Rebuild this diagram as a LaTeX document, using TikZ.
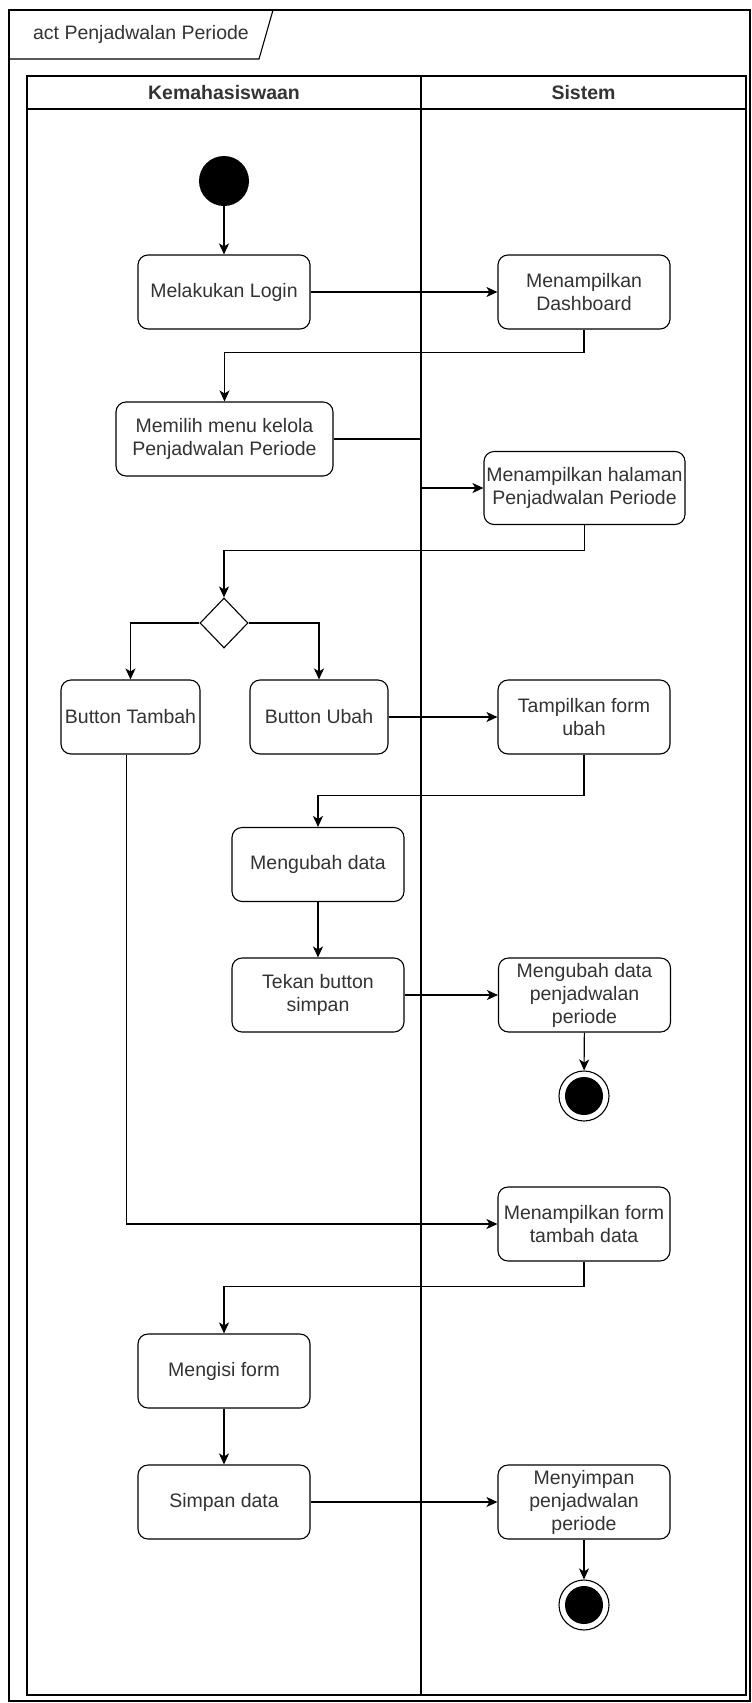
\documentclass[tikz,border=0pt]{standalone}
\usepackage{fontspec}
\setmainfont{Liberation Sans}
\usetikzlibrary{shapes.geometric,arrows.meta}
\begin{document}
\begin{tikzpicture}[x=1pt,y=-1pt,
  txt/.style={font=\fontsize{19.5}{23}\selectfont, text=black!80},
  act/.style={draw, rounded corners=10pt, line width=1.1pt, align=center, inner sep=0pt, txt, fill=white, minimum width=172pt, minimum height=74pt},
  frameline/.style={line width=1.1pt},
  flow/.style={line width=1.1pt, -{Stealth[length=11pt,width=10pt,inset=3pt]}},
  startnode/.style={circle, fill=black, minimum size=50pt, inner sep=0pt},
  endnode/.style={circle, draw, line width=1.1pt, minimum size=50pt, inner sep=0pt},
  decision/.style={diamond, draw, line width=1.1pt, minimum width=48pt, minimum height=50pt, inner sep=0pt}
]
\useasboundingbox (0,0) rectangle (752,1703);
% frame
\draw[frameline] (9,10) rectangle (750,1701);
\draw[frameline] (9,59) -- (259,59) -- (273,10);
\node[txt] (title) at (141,34) {act Penjadwalan Periode};
% lanes
\draw[frameline] (27,76) rectangle (746,1695);
\draw[frameline] (27,109) -- (746,109);
\draw[frameline] (421,76) -- (421,1695);
\node[txt, font=\fontsize{19.5}{23}\selectfont\bfseries] (lane1) at (224,92.5) {Kemahasiswaan};
\node[txt, font=\fontsize{19.5}{23}\selectfont\bfseries] (lane2) at (583.5,92.5) {Sistem};
\coordinate (divx) at (421,0);
% nodes
\node[startnode] (start) at (224,181) {};
\node[act] (login) at (224,292) {Melakukan Login};
\node[act] (dash) at (584,292) {Menampilkan\\Dashboard};
\node[act, minimum width=217pt] (memilih) at (224.5,439) {Memilih menu kelola\\Penjadwalan Periode};
\node[act, minimum width=201pt, minimum height=73pt] (halaman) at (584.5,488) {Menampilkan halaman\\Penjadwalan Periode};
\node[decision] (dec) at (224,623) {};
\node[act, minimum width=139pt] (tambah) at (130.5,717) {Button Tambah};
\node[act, minimum width=138pt] (ubah) at (319,717) {Button Ubah};
\node[act] (tampil) at (584,717) {Tampilkan form\\ubah};
\node[act] (mengubah) at (318,864.5) {Mengubah data};
\node[act] (tekan) at (318,995) {Tekan button\\simpan};
\node[act] (mdp) at (584.5,995) {Mengubah data\\penjadwalan\\periode};
\node[endnode] (end1) at (584,1096) {};
\fill (end1.center) circle (19pt);
\node[act] (mftd) at (584,1224) {Menampilkan form\\tambah data};
\node[act] (mengisi) at (224,1371) {Mengisi form};
\node[act] (simpan) at (224,1502) {Simpan data};
\node[act] (menyimpan) at (584,1502) {Menyimpan\\penjadwalan\\periode};
\node[endnode] (end2) at (584,1605) {};
\fill (end2.center) circle (19pt);
% connectors
\draw[flow] (start) -- (login);
\draw[flow] (login) -- (dash);
\draw[flow] (dash.south) -- ++(0,23) -| (memilih.north);
\draw[flow] (memilih.east) -- (memilih.east -| divx) |- (halaman.west);
\draw[flow] (halaman.south) -- ++(0,25) -| (dec.north);
\draw[flow] (dec.west) -| (tambah.north);
\draw[flow] (dec.east) -| (ubah.north);
\draw[flow] (ubah) -- (tampil);
\draw[flow] (tampil.south) -- ++(0,41) -| (mengubah.north);
\draw[flow] (mengubah) -- (tekan);
\draw[flow] (tekan) -- (mdp);
\draw[flow] (mdp) -- (end1);
\draw[flow] ([xshift=-4pt]tambah.south) |- (mftd.west);
\draw[flow] (mftd.south) -- ++(0,25) -| (mengisi.north);
\draw[flow] (mengisi) -- (simpan);
\draw[flow] (simpan) -- (menyimpan);
\draw[flow] (menyimpan) -- (end2);
\end{tikzpicture}
\end{document}
